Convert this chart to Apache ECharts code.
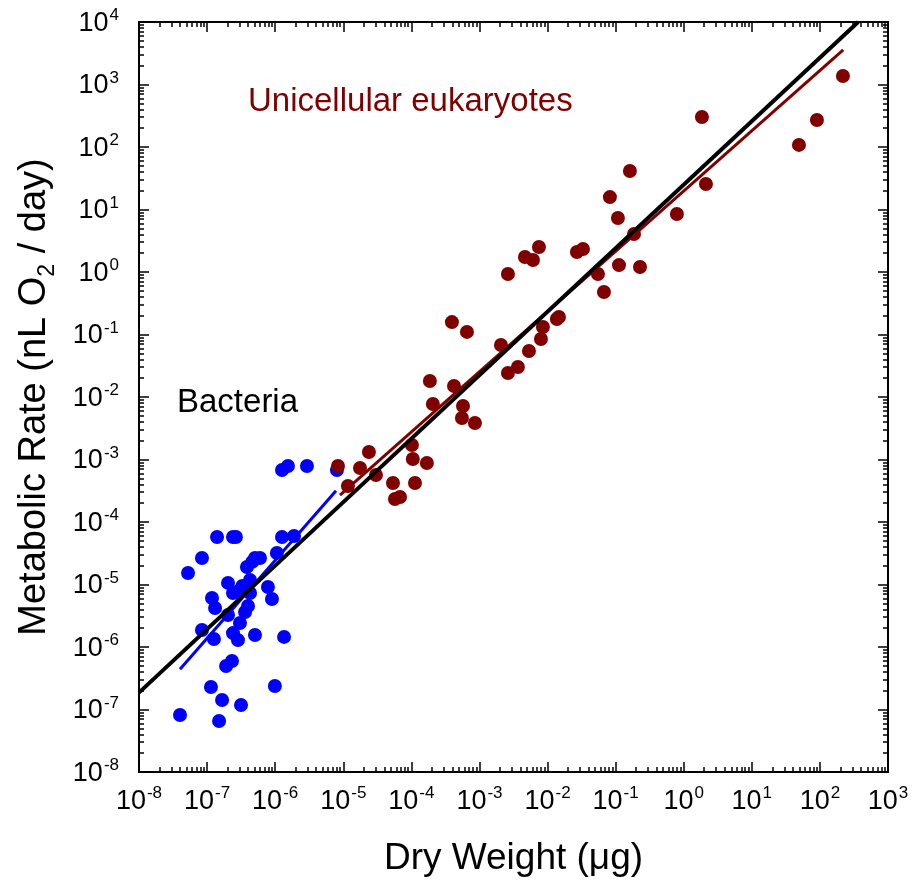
<!DOCTYPE html>
<html>
<head>
<meta charset="utf-8">
<script src="https://cdn.jsdelivr.net/npm/echarts@6/dist/echarts.min.js"></script>
<style>
html,body{margin:0;padding:0;background:#fff;}
#chart{width:915px;height:888px;}
</style>
</head>
<body>
<div id="chart"></div>
<script>
// ---- Data (dry weight in µg, metabolic rate in nL O2/day) ----
const bacteriaWeight = [4.0e-8,1.50e-7,1.66e-7,3.15e-7,1.14e-7,9.9e-7,1.90e-7,2.32e-7,8.41e-8,1.26e-7,
  5.05e-7,1.35e-6,2.40e-7,2.84e-7,3.04e-7,2.03e-7,3.61e-7,3.99e-7,1.31e-7,1.18e-7,
  2.40e-7,4.27e-7,3.04e-7,7.83e-7,8.97e-7,2.03e-7,4.27e-7,3.85e-7,5.05e-7,5.98e-7,
  1.06e-6,5.25e-8,8.41e-8,1.40e-7,2.40e-7,2.65e-7,1.26e-6,1.89e-6,1.26e-6,1.54e-6,
  2.93e-6,8.07e-6,4.6e-7,3.3e-7];
const bacteriaRate = [8.17e-8,6.55e-8,1.42e-7,1.18e-7,2.29e-7,2.38e-7,4.97e-7,5.97e-7,1.87e-6,1.34e-6,
  1.56e-6,1.45e-6,1.67e-6,1.29e-6,2.42e-6,3.25e-6,3.63e-6,4.53e-6,4.21e-6,6.08e-6,
  7.31e-6,7.31e-6,8.17e-6,9.12e-6,5.86e-6,1.06e-5,1.18e-5,1.91e-5,2.65e-5,2.65e-5,
  3.19e-5,1.53e-5,2.65e-5,5.75e-5,5.75e-5,5.75e-5,5.75e-5,5.97e-5,6.79e-4,7.87e-4,
  7.87e-4,6.79e-4,2.3e-5,9.5e-6];
const eukWeight = [8.36e-6,1.17e-5,1.76e-5,2.38e-5,3.02e-5,5.37e-5,5.74e-5,6.81e-5,1.13e-4,1.02e-4,
  1.05e-4,1.69e-4,1.87e-4,2.07e-4,4.23e-4,3.94e-4,5.53e-4,5.73e-4,8.59e-4,6.55e-4,
  2.07e-3,2.62e-3,2.62e-3,3.67e-3,5.33e-3,8.0e-3,8.55e-3,4.66e-3,6.11e-3,7.48e-3,
  1.37e-2,1.47e-2,2.70e-2,3.31e-2,5.50e-2,6.73e-2,0.112,0.228,0.186,0.108,
  8.24e-2,0.162,0.794,2.12,1.85,49.2,90.4,218];
const eukRate = [7.87e-4,3.77e-4,7.31e-4,1.32e-3,5.65e-4,4.21e-4,2.33e-4,2.51e-4,4.21e-4,1.71e-3,
  1.02e-3,8.79e-4,1.80e-2,7.73e-3,1.50e-2,0.158,4.61e-3,7.18e-3,3.84e-3,0.110,
  6.79e-2,2.42e-2,0.929,3.02e-2,5.45e-2,8.47e-2,0.132,1.74,1.56,2.51,
  0.177,0.191,2.09,2.33,0.929,0.479,1.29,1.20,4.06,7.31,
  15.8,41.3,8.47,25.6,302,108,270,1368];
// Fit lines (end points)
const bacteriaFitX = [4.0e-8, 7.82e-6];
const bacteriaFitY = [4.40e-7, 3.17e-4];
const eukFitX = [8.95e-6, 220];
const eukFitY = [2.70e-4, 3565];
const allFitX = [1e-8, 365];
const allFitY = [1.86e-7, 1e4];
// Axis ranges (decade exponents)
const xDecades = [-8, 3];
const yDecades = [-8, 4];
const minorMultipliers = [2,3,4,5,6,7,8,9];

const FONT = '"Liberation Sans", Arial, Helvetica, sans-serif';
const pairs = (a, b) => a.map((v, i) => [v, b[i]]);

function minorTicks(range) {
  const out = [];
  for (let d = range[0]; d < range[1]; d++) {
    minorMultipliers.forEach(k => out.push(d + Math.log10(k)));
  }
  return out;
}
function majorTicks(range) {
  const out = [];
  for (let d = range[0]; d <= range[1]; d++) out.push(d);
  return out;
}

const labelRich = {
  b: { fontSize: 27, fontFamily: FONT, color: '#000', lineHeight: 30, verticalAlign: 'bottom' },
  s: { fontSize: 17, fontFamily: FONT, color: '#000', lineHeight: 30, verticalAlign: 'top', padding: [0,0,0,1] }
};
const powFmt = v => '{b|10}{s|' + Math.round(Math.log10(v)) + '}';

const gridBox = { left: 139, top: 22, width: 749, height: 750 };

function tickAxis(pos, range, values, len, showLine) {
  return {
    type: 'value', position: pos, offset: 0, min: range[0], max: range[1],
    gridIndex: 0, silent: true,
    axisLine: { show: showLine, onZero: false, lineStyle: { color: '#000', width: 2 } },
    axisTick: { show: true, inside: true, length: len, customValues: values, lineStyle: { color: '#000', width: 1.5 } },
    axisLabel: { show: false }, splitLine: { show: false }
  };
}

const chart = echarts.init(document.getElementById('chart'), null, { renderer: 'canvas' });
chart.setOption({
  animation: false,
  backgroundColor: '#fff',
  grid: gridBox,
  xAxis: [
    {
      type: 'log', logBase: 10, min: Math.pow(10, xDecades[0]), max: Math.pow(10, xDecades[1]), interval: 1,
      position: 'bottom', offset: 0,
      name: 'Dry Weight (\u03bcg)', nameLocation: 'middle', nameGap: 68,
      nameTextStyle: { fontSize: 37, fontFamily: FONT, color: '#000' },
      axisLine: { show: true, onZero: false, lineStyle: { color: '#000', width: 2 } },
      axisTick: { show: true, inside: true, length: 10, lineStyle: { color: '#000', width: 1.5 } },
      axisLabel: { show: true, margin: 13, formatter: powFmt, rich: labelRich, showMinLabel: true, showMaxLabel: true },
      splitLine: { show: false }, minorTick: { show: false }
    },
    tickAxis('bottom', xDecades, minorTicks(xDecades), 5, false),
    tickAxis('top', xDecades, majorTicks(xDecades), 10, true),
    tickAxis('top', xDecades, minorTicks(xDecades), 5, false)
  ],
  yAxis: [
    {
      type: 'log', logBase: 10, min: Math.pow(10, yDecades[0]), max: Math.pow(10, yDecades[1]), interval: 1,
      position: 'left', offset: 0,
      name: 'Metabolic Rate (nL O{sub|2} / day)', nameLocation: 'middle', nameGap: 80, nameRotate: 90,
      nameTextStyle: { fontSize: 38, fontFamily: FONT, color: '#000',
        rich: { sub: { fontSize: 23, fontFamily: FONT, color: '#000', verticalAlign: 'bottom', lineHeight: 48 } } },
      axisLine: { show: true, onZero: false, lineStyle: { color: '#000', width: 2 } },
      axisTick: { show: true, inside: true, length: 10, lineStyle: { color: '#000', width: 1.5 } },
      axisLabel: { show: true, margin: 20, formatter: powFmt, rich: labelRich, showMinLabel: true, showMaxLabel: true },
      splitLine: { show: false }, minorTick: { show: false }
    },
    tickAxis('left', yDecades, minorTicks(yDecades), 5, false),
    tickAxis('right', yDecades, majorTicks(yDecades), 10, true),
    tickAxis('right', yDecades, minorTicks(yDecades), 5, false)
  ],
  series: [
    { name: 'Bacteria', type: 'scatter', xAxisIndex: 0, yAxisIndex: 0, symbol: 'circle', symbolSize: 14,
      itemStyle: { color: '#0000ff', opacity: 1 }, data: pairs(bacteriaWeight, bacteriaRate) },
    { name: 'Unicellular eukaryotes', type: 'scatter', xAxisIndex: 0, yAxisIndex: 0, symbol: 'circle', symbolSize: 14,
      itemStyle: { color: '#800000', opacity: 1 }, data: pairs(eukWeight, eukRate) },
    { type: 'line', xAxisIndex: 0, yAxisIndex: 0, showSymbol: false, silent: true,
      lineStyle: { color: '#0000ff', width: 3 }, data: pairs(bacteriaFitX, bacteriaFitY) },
    { type: 'line', xAxisIndex: 0, yAxisIndex: 0, showSymbol: false, silent: true,
      lineStyle: { color: '#800000', width: 3 }, data: pairs(eukFitX, eukFitY) },
    { type: 'line', xAxisIndex: 0, yAxisIndex: 0, showSymbol: false, silent: true,
      lineStyle: { color: '#000000', width: 4 }, data: pairs(allFitX, allFitY) }
  ],
  graphic: [
    { type: 'text', left: 177, top: 386, style: { text: 'Bacteria', fill: '#000', font: '33px ' + FONT } },
    { type: 'text', left: 248, top: 85, style: { text: 'Unicellular eukaryotes', fill: '#800000', font: '33px ' + FONT } }
  ]
});
</script>
</body>
</html>
